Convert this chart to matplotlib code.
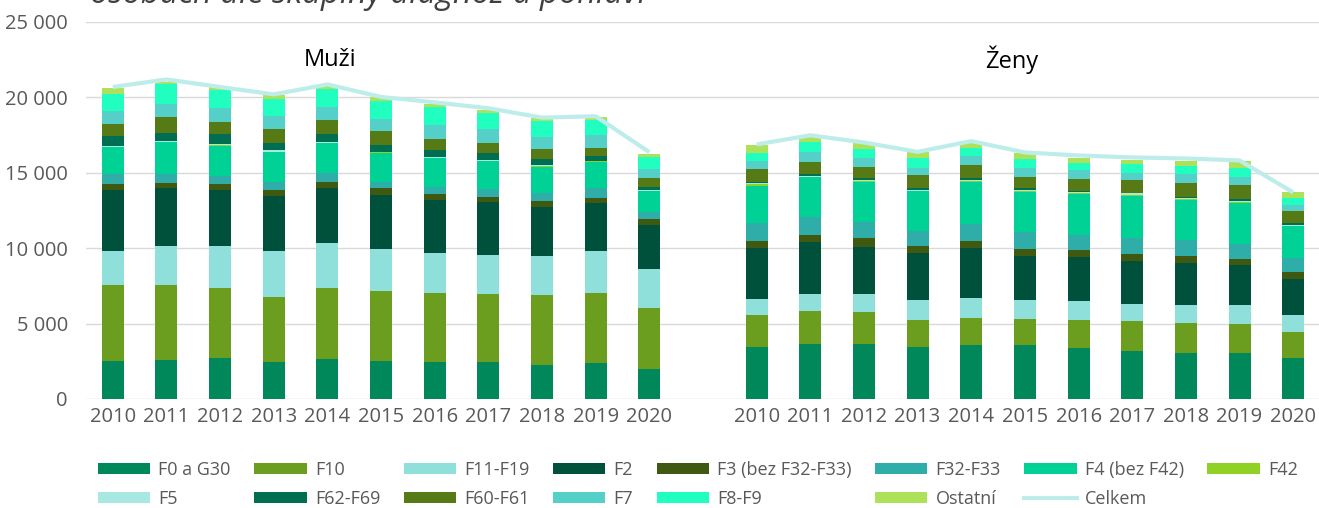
import matplotlib
matplotlib.use("Agg")
import matplotlib.pyplot as plt
from matplotlib.patches import Patch
from matplotlib.lines import Line2D
import numpy as np

plt.rcParams['font.family'] = ['Open Sans', 'DejaVu Sans']

years = [str(y) for y in range(2010, 2021)]
groups = ['Muži', 'Ženy']

# values: first 11 = Muži 2010-2020, next 11 = Ženy 2010-2020
f0_g30 = [2510, 2580, 2710, 2450, 2640, 2510, 2450, 2450, 2250, 2380, 1980,
          3420, 3680, 3680, 3480, 3550, 3550, 3350, 3150, 3080, 3020, 2750]
f10 = [5020, 4960, 4630, 4300, 4690, 4630, 4560, 4490, 4630, 4630, 4030,
       2180, 2180, 2120, 1780, 1850, 1780, 1920, 2050, 1980, 1980, 1720]
f11_f19 = [2310, 2580, 2780, 3040, 3040, 2780, 2640, 2640, 2580, 2780, 2640,
           1060, 1120, 1190, 1320, 1320, 1260, 1260, 1120, 1190, 1260, 1120]
f2 = [4030, 3900, 3770, 3700, 3640, 3640, 3570, 3500, 3300, 3240, 2910,
      3370, 3440, 3110, 3110, 3310, 2910, 2910, 2840, 2780, 2640, 2380]
f3 = [400, 330, 400, 400, 400, 400, 400, 330, 400, 330, 400,
      460, 460, 600, 460, 460, 460, 460, 460, 460, 400, 460]
f32_f33 = [620, 590, 490, 530, 590, 460, 460, 530, 530, 600, 460,
           1210, 1190, 1060, 990, 1120, 1120, 990, 1060, 1060, 990, 930]
f4 = [1830, 2070, 2030, 1980, 1980, 1920, 1920, 1850, 1720, 1780, 1390,
      2420, 2640, 2640, 2640, 2780, 2640, 2710, 2780, 2640, 2710, 2120]
f42 = [20, 60, 60, 10, 20, 10, 10, 20, 60, 20, 10,
       130, 20, 70, 20, 70, 70, 70, 100, 90, 60, 20]
f5 = [40, 50, 60, 100, 40, 40, 40, 60, 30, 40, 60,
      70, 60, 70, 60, 70, 70, 70, 70, 70, 50, 60]
f62_f69 = [670, 530, 610, 490, 540, 480, 480, 450, 440, 340, 190,
           70, 120, 120, 120, 120, 120, 60, 30, 40, 150, 120]
f60_f61 = [790, 1060, 860, 930, 930, 930, 730, 660, 660, 530, 600,
           860, 790, 730, 860, 860, 730, 790, 860, 930, 930, 790]
f7 = [860, 860, 880, 860, 860, 790, 930, 930, 790, 860, 600,
      530, 660, 600, 460, 600, 600, 600, 460, 600, 530, 400]
f8_f9 = [1120, 1320, 1230, 1120, 1190, 1190, 1190, 1060, 1060, 990, 790,
         530, 660, 600, 660, 530, 600, 460, 600, 530, 600, 460]
ostatni = [400, 130, 150, 260, 260, 260, 200, 200, 200, 200, 200,
           530, 330, 400, 400, 460, 400, 330, 260, 330, 460, 400]

celkem_muzi = [20690, 21190, 20690, 20200, 20860, 20030, 19670, 19280, 18660, 18750, 16370]
celkem_zeny = [16880, 17490, 17010, 16390, 17100, 16350, 16150, 16020, 15950, 15820, 13700]

series = [
    ('F0 a G30', f0_g30, '#00875A'),
    ('F10', f10, '#6B9E1F'),
    ('F11-F19', f11_f19, '#8FE0DA'),
    ('F2', f2, '#00513C'),
    ('F3 (bez F32-F33)', f3, '#3F5A10'),
    ('F32-F33', f32_f33, '#2FADA8'),
    ('F4 (bez F42)', f4, '#00D194'),
    ('F42', f42, '#8FD125'),
    ('F5', f5, '#A8E8E3'),
    ('F62-F69', f62_f69, '#006E50'),
    ('F60-F61', f60_f61, '#567B16'),
    ('F7', f7, '#55D0C8'),
    ('F8-F9', f8_f9, '#20FFC0'),
    ('Ostatní', ostatni, '#ADE15A'),
]
celkem_color = '#BDEDEB'
gray = '#595959'

W, H = 1319, 508
fig = plt.figure(figsize=(W / 100, H / 100), dpi=100)
ax = fig.add_axes([86 / W, (H - 399) / H, 1234 / W, 377 / H])

x_m = np.arange(11)
x_z = np.arange(12, 23)
x = np.concatenate([x_m, x_z])

bottom = np.zeros(len(x))
for name, vals, col in series:
    v = np.array(vals, dtype=float)
    ax.bar(x, v, 0.41, bottom=bottom, color=col, zorder=2)
    bottom += v

ax.plot(x_m, celkem_muzi, color=celkem_color, lw=3, zorder=3, solid_capstyle='butt')
ax.plot(x_z, celkem_zeny, color=celkem_color, lw=3, zorder=3, solid_capstyle='butt')

ax.set_xlim(-0.5, 22.5)
ax.set_ylim(0, 25000)
ax.set_yticks(range(0, 25001, 5000))
ax.set_yticklabels([f'{v:,}'.replace(',', ' ') for v in range(0, 25001, 5000)])
ax.set_xticks(x)
ax.set_xticklabels(years + years)
ax.yaxis.grid(True, color='#D9D9D9', lw=1.0, zorder=0)
ax.set_axisbelow(True)
for s in ax.spines.values():
    s.set_visible(False)
ax.tick_params(axis='both', length=0, colors=gray, labelsize=14.5)
ax.tick_params(axis='x', pad=6)
ax.tick_params(axis='y', pad=13)

ax.text(4.05, 22500, groups[0], ha='center', va='center', fontsize=17, color='black')
ax.text(16.75, 22500, groups[1], ha='center', va='center', fontsize=17, color='black')

# title is clipped at the top edge, as in the source image
fig.text(90 / W, 1 - 3 / H, 'osobách dle skupiny diagnóz a pohlaví', fontsize=23.5,
         style='italic', color='#404040', va='baseline', ha='left')

handles = [Patch(facecolor=c, edgecolor='none') for _, _, c in series]
labels = [n for n, _, _ in series]
handles.append(Line2D([], [], color=celkem_color, lw=3))
labels.append('Celkem')
# legend reads row-wise, matplotlib fills column-wise
order = [0, 8, 1, 9, 2, 10, 3, 11, 4, 12, 5, 13, 6, 14, 7]
leg = fig.legend([handles[i] for i in order], [labels[i] for i in order],
                 ncol=8, loc='upper left', bbox_to_anchor=(98 / W, 1 - 461 / H),
                 frameon=False, fontsize=13, handlelength=2.9, handleheight=0.55,
                 handletextpad=0.45, columnspacing=1.3, labelspacing=0.6,
                 borderpad=0, borderaxespad=0)
for t in leg.get_texts():
    t.set_color(gray)

fig.savefig('out.png', dpi=100)
